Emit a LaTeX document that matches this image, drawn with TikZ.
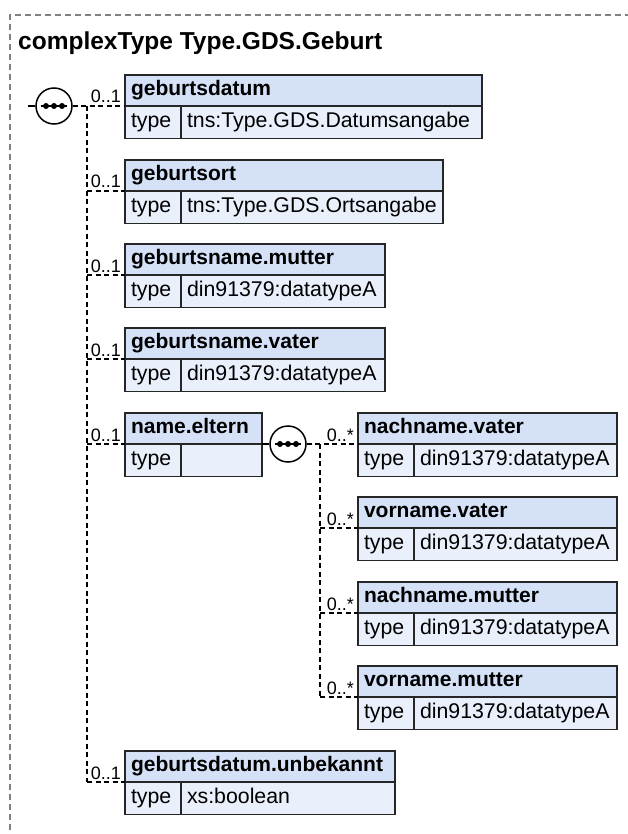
\documentclass[tikz,border=0pt]{standalone}
\usepackage{fontspec}
\setmainfont{Liberation Sans}
\usetikzlibrary{calc}
\definecolor{hdrfill}{RGB}{212,225,247}
\definecolor{rowfill}{RGB}{233,239,251}
\definecolor{framegray}{RGB}{128,128,128}
\tikzset{
  boxtext/.style={font=\fontsize{21.3}{25}\selectfont, text height=15pt, text depth=4.5pt,
    inner xsep=6pt, inner ysep=0pt, outer sep=0pt, draw=black!85, line width=1.3pt, align=left},
  hdr/.style={boxtext, fill=hdrfill, font=\fontsize{21}{25}\selectfont\bfseries, minimum height=31pt},
  celltype/.style={boxtext, fill=rowfill, minimum height=32.5pt, text width=44pt},
  cellval/.style={boxtext, fill=rowfill, minimum height=32.5pt},
  mult/.style={font=\fontsize{18}{21}\selectfont, inner sep=0pt},
  seqc/.style={circle, draw=black, line width=1.5pt, fill=white, minimum size=36pt, inner sep=0pt,
    path picture={
      \draw[black, line width=1.4pt] ([xshift=-13pt]path picture bounding box.center) -- ([xshift=13pt]path picture bounding box.center);
      \foreach \dx in {-8,0,8} \fill[black] ([xshift=\dx pt]path picture bounding box.center) circle (3pt);
    }},
  conn/.style={draw=black, line width=1.2pt, dash pattern=on 5pt off 3.5pt},
  solidconn/.style={draw=black, line width=1.2pt},
  framedash/.style={draw=framegray, line width=1.2pt, dash pattern=on 6pt off 4pt}
}
\newcommand\xsdelem[6]{%
  \pgfmathsetmacro\hw{#4-#2-12}%
  \pgfmathsetmacro\vw{#4-#2-56-12}%
  \node[hdr, text width=\hw pt, anchor=north west] (#1) at (#2,#3) {#5};
  \node[celltype, anchor=north west] (#1-t) at (#1.south west) {type};
  \node[cellval, text width=\vw pt, anchor=north west] (#1-v) at (#1-t.north east) {#6};
}
\begin{document}
\begin{tikzpicture}[x=1pt,y=-1pt]
\useasboundingbox (0,0) rectangle (627,834);
% frame
\draw[framedash] (10,850) -- (10,15) -- (640,15);
\node[font=\fontsize{24.5}{28}\selectfont\bfseries, anchor=base west, inner sep=0pt] (title) at (18,50) {complexType Type.GDS.Geburt};

% elements
\xsdelem{e1}{125}{75}{482}{geburtsdatum}{tns:Type.GDS.Datumsangabe}
\xsdelem{e2}{125}{160}{443}{geburtsort}{tns:Type.GDS.Ortsangabe}
\xsdelem{e3}{125}{244}{385}{geburtsname.mutter}{din91379:datatypeA}
\xsdelem{e4}{125}{328}{385}{geburtsname.vater}{din91379:datatypeA}
\xsdelem{e5}{125}{413}{262}{name.eltern}{}
\xsdelem{e6}{125}{751}{395}{geburtsdatum.unbekannt}{xs:boolean}
\xsdelem{r1}{358}{413}{617}{nachname.vater}{din91379:datatypeA}
\xsdelem{r2}{358}{497}{617}{vorname.vater}{din91379:datatypeA}
\xsdelem{r3}{358}{582}{617}{nachname.mutter}{din91379:datatypeA}
\xsdelem{r4}{358}{666}{617}{vorname.mutter}{din91379:datatypeA}

% sequence 1
\node[seqc] (c1) at (54,106) {};
\coordinate (in1) at (28,106);
\draw[solidconn] (in1) -- (c1);
\draw[conn] (c1.east) -- (e1.south west);
\coordinate (s1top) at (87,106);
\coordinate (s1bot) at (s1top |- e6.south west);
\draw[conn] (s1top) -- (s1bot);
\foreach \e in {e2,e3,e4,e5,e6}{
  \coordinate (j-\e) at (s1top |- \e.south west);
  \draw[conn] (j-\e) -- (\e.south west);
}
\foreach \e in {e1,e2,e3,e4,e5,e6}{
  \node[mult, anchor=base east] (m-\e) at ($(\e.south west)+(-4,-3)$) {0..1};
}

% sequence 2
\node[seqc] (c2) at (288,444) {};
\draw[solidconn] (e5.south east) -- (c2.west);
\draw[conn] (c2.east) -- (r1.south west);
\coordinate (s2top) at (320,444);
\coordinate (s2bot) at (s2top |- r4.south west);
\draw[conn] (s2top) -- (s2bot);
\foreach \e in {r2,r3,r4}{
  \coordinate (j-\e) at (s2top |- \e.south west);
  \draw[conn] (j-\e) -- (\e.south west);
}
\foreach \e in {r1,r2,r3,r4}{
  \node[mult, anchor=base east] (m-\e) at ($(\e.south west)+(-4,-3)$) {0..*};
}
\end{tikzpicture}
\end{document}
